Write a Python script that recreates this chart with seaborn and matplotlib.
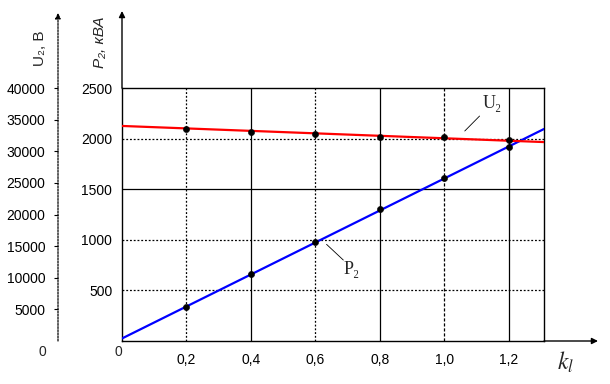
import matplotlib
matplotlib.use("Agg")
import matplotlib.pyplot as plt
import seaborn as sns

# measured points
k_pts = [0.2, 0.4, 0.6, 0.8, 1.0, 1.2]
p2_pts = [340, 660, 980, 1300, 1615, 1915]
u2_pts = [33500, 33100, 32700, 32250, 32200, 31800]

# trend lines (end points)
k_fit = [0.0, 1.31]
p2_fit = [25, 2095]
u2_fit = [34000, 31450]

x_ticks = [0.2, 0.4, 0.6, 0.8, 1.0, 1.2]
x_labels = ["0,2", "0,4", "0,6", "0,8", "1,0", "1,2"]
p_ticks = [500, 1000, 1500, 2000, 2500]
u_ticks = [5000, 10000, 15000, 20000, 25000, 30000, 35000, 40000]

sns.set_style("white")
plt.rcParams["font.family"] = ["Liberation Sans", "DejaVu Sans"]

W, H = 610, 384
fig = plt.figure(figsize=(W / 100, H / 100), dpi=100)
ax = fig.add_axes([122 / W, 43 / H, 422 / W, 253 / H])

ax.set_xlim(0, 1.31)
ax.set_ylim(0, 2500)

# grid: some lines solid, some dotted
dotted = (0, (1.5, 1.5))
vstyle = {0.2: dotted, 0.4: "-", 0.6: dotted, 0.8: "-", 1.0: (0, (2.5, 1.5)), 1.2: "-"}
hstyle = {500: dotted, 1000: dotted, 1500: "-", 2000: dotted}
for xv, ls in vstyle.items():
    ax.axvline(xv, color="k", lw=0.9, ls=ls, zorder=1)
for yv, ls in hstyle.items():
    ax.axhline(yv, color="k", lw=0.9, ls=ls, zorder=1)

for s in ax.spines.values():
    s.set_color("k")
    s.set_linewidth(1.0)

ax.set_xticks(x_ticks)
ax.set_xticklabels(x_labels)
ax.set_yticks(p_ticks)
ax.tick_params(axis="both", length=0, labelsize=10, colors="k")
ax.tick_params(axis="x", pad=9)
ax.tick_params(axis="y", pad=7)

sns.lineplot(x=k_fit, y=p2_fit, ax=ax, color="#0000ff", lw=1.6, zorder=3)
sns.scatterplot(x=k_pts, y=p2_pts, ax=ax, color="k", marker="o", s=20,
                edgecolor="k", zorder=4)

# second (voltage) axis on the far left, 64 px to the left of the main one
ax2 = ax.twinx()
ax2.set_ylim(0, 40000)
for s in ax2.spines.values():
    s.set_visible(False)
ax2.yaxis.tick_left()
ax2.set_yticks(u_ticks)
ax2.tick_params(axis="y", length=3, width=0.8, pad=6, labelsize=10, colors="k")
ax2.spines["left"].set_position(("outward", 64 * 0.72))

sns.lineplot(x=k_fit, y=u2_fit, ax=ax2, color="#ff0000", lw=1.6, zorder=3)
sns.scatterplot(x=k_pts, y=u2_pts, ax=ax2, color="k", marker="o", s=20,
                edgecolor="k", zorder=4)
ax2.set_xlim(0, 1.31)


def fx(px):
    return px / W


def fy(py):
    return 1 - py / H


arrow = dict(arrowstyle="-|>", color="k", lw=1.0, shrinkA=0, shrinkB=0,
             mutation_scale=9)
ax.annotate("", xy=(fx(122), fy(11)), xytext=(fx(122), fy(88)),
            xycoords="figure fraction", textcoords="figure fraction",
            arrowprops=arrow)
ax.annotate("", xy=(fx(598), fy(341)), xytext=(fx(544), fy(341)),
            xycoords="figure fraction", textcoords="figure fraction",
            arrowprops=arrow)
ax.annotate("", xy=(fx(58), fy(13)), xytext=(fx(58), fy(341)),
            xycoords="figure fraction", textcoords="figure fraction",
            arrowprops=dict(arrowstyle="-|>", color="k", lw=0.9, ls=(0, (1.5, 1)),
                            shrinkA=0, shrinkB=0, mutation_scale=8))

# origin zeros
fig.text(fx(118), fy(352), "0", ha="center", va="center", fontsize=10)
fig.text(fx(42), fy(352), "0", ha="center", va="center", fontsize=10)

# axis titles
fig.text(fx(40), fy(48), "U₂, В", rotation=90, ha="center", va="center",
         fontsize=11)
fig.text(fx(100), fy(42), "P₂, кВА", rotation=90, ha="center", va="center",
         fontsize=11, style="italic")
fig.text(fx(566), fy(362), "$k_l$", ha="center", va="center", fontsize=17,
         math_fontfamily="stix")

# curve labels with leader lines
serif = ["Liberation Serif", "DejaVu Serif"]
leader = dict(arrowstyle="-", color="k", lw=0.6, shrinkA=0, shrinkB=0)
ax.annotate("", xy=(1.064, 2075), xytext=(1.110, 2223), arrowprops=leader)
fig.text(fx(483), fy(104), "U₂", ha="left", va="center", fontsize=13,
         family=serif)
ax.annotate("", xy=(0.635, 955), xytext=(0.687, 800), arrowprops=leader)
fig.text(fx(344), fy(270), "P₂", ha="left", va="center", fontsize=13,
         family=serif)

fig.savefig("out.png", dpi=100)
plt.close(fig)
